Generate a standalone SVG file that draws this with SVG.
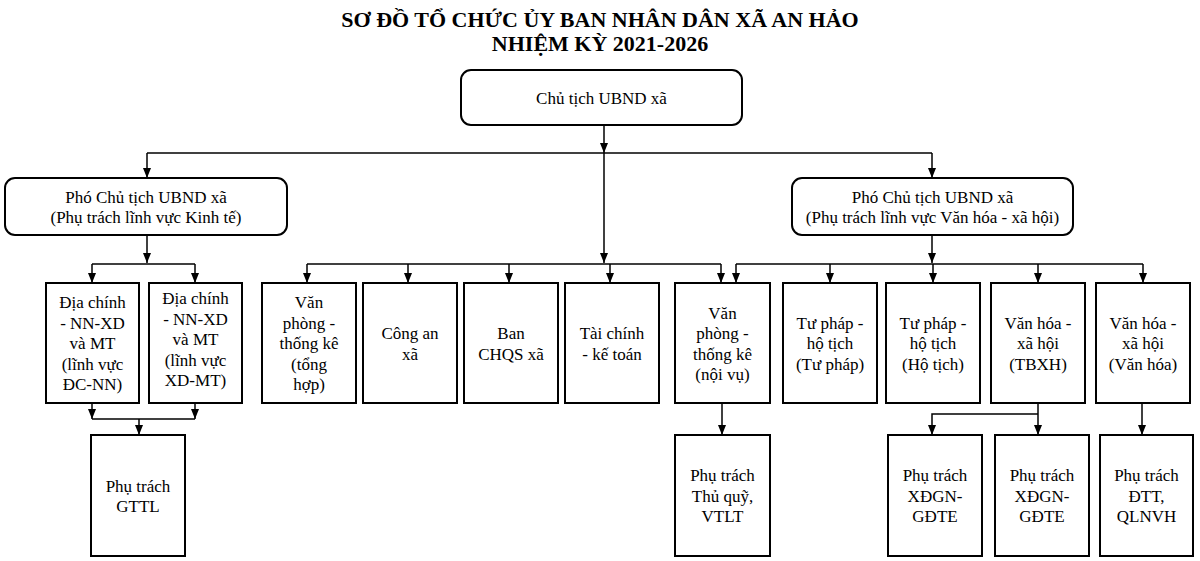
<svg xmlns="http://www.w3.org/2000/svg" width="1200" height="561" viewBox="0 0 1200 561">
<defs>
<marker id="arr" viewBox="0 0 10 8" markerWidth="10" markerHeight="8" refX="10" refY="4" orient="auto" markerUnits="userSpaceOnUse"><path d="M0,0 L10,4 L0,8 z" fill="#000"/></marker>
<style>
.box{fill:#fff;stroke:#000;stroke-width:2}
.t{font-family:"Liberation Serif","Times New Roman",serif;font-size:17px;text-anchor:middle;fill:#000}
.title{font-family:"Liberation Serif","Times New Roman",serif;font-size:22px;font-weight:bold;text-anchor:middle;fill:#000}
.c{fill:none;stroke:#000;stroke-width:1.5}
.a{fill:none;stroke:#000;stroke-width:1.5;marker-end:url(#arr)}
</style>
</defs>
<rect width="1200" height="561" fill="#fff"/>
<g id="title">
<text class="title" x="600" y="27">SƠ ĐỒ TỔ CHỨC ỦY BAN NHÂN DÂN XÃ AN HẢO</text>
<text class="title" x="600" y="51">NHIỆM KỲ 2021-2026</text>
</g>
<g id="connectors">
<path class="a" d="M604,126 V153"/>
<path class="c" d="M147,153 H932"/>
<path class="a" d="M147,153 V178"/>
<path class="a" d="M932,153 V178"/>
<path class="a" d="M604,153 V263"/>
<path class="a" d="M147,235 V263"/>
<path class="c" d="M92,264 H195"/>
<path class="a" d="M92,264 V283"/>
<path class="a" d="M195,264 V283"/>
<path class="c" d="M307,264 H721"/>
<path class="a" d="M307,264 V283"/>
<path class="a" d="M408,264 V283"/>
<path class="a" d="M509,264 V283"/>
<path class="a" d="M610,264 V283"/>
<path class="a" d="M721,264 V283"/>
<path class="a" d="M932,235 V263"/>
<path class="c" d="M736,264 H1143"/>
<path class="a" d="M736,264 V283"/>
<path class="a" d="M830,264 V283"/>
<path class="a" d="M933,264 V283"/>
<path class="a" d="M1038,264 V283"/>
<path class="a" d="M1143,264 V283"/>
<path class="a" d="M92,403 V419"/>
<path class="a" d="M195,403 V419"/>
<path class="c" d="M92,419 H195"/>
<path class="a" d="M139,419 V435"/>
<path class="a" d="M722,403 V435"/>
<path class="a" d="M1038,403 V435"/>
<path class="a" d="M1038,414 H932 V435"/>
<path class="a" d="M1142,403 V435"/>
</g>
<g id="chutich">
<rect class="box" x="461" y="70" width="281" height="55" rx="10"/>
<text class="t" x="601.5" y="104">Chủ tịch UBND xã</text>
</g>
<g id="pct-kinhte">
<rect class="box" x="5" y="178" width="282" height="57" rx="10"/>
<text class="t" x="146" y="202.5">Phó Chủ tịch UBND xã</text>
<text class="t" x="146" y="223">(Phụ trách lĩnh vực Kinh tế)</text>
</g>
<g id="pct-vhxh">
<rect class="box" x="792" y="178" width="281" height="57" rx="10"/>
<text class="t" x="932.5" y="202.5">Phó Chủ tịch UBND xã</text>
<text class="t" x="932.5" y="223">(Phụ trách lĩnh vực Văn hóa - xã hội)</text>
</g>
<g id="diachinh1">
<rect class="box" x="46" y="283" width="93" height="120"/>
<text class="t" x="92.5" y="308">Địa chính</text>
<text class="t" x="92.5" y="328.5">- NN-XD</text>
<text class="t" x="92.5" y="349">và MT</text>
<text class="t" x="92.5" y="369.5">(lĩnh vực</text>
<text class="t" x="92.5" y="390">ĐC-NN)</text>
</g>
<g id="diachinh2">
<rect class="box" x="149" y="283" width="93" height="120"/>
<text class="t" x="195.5" y="304">Địa chính</text>
<text class="t" x="195.5" y="324.5">- NN-XD</text>
<text class="t" x="195.5" y="345">và MT</text>
<text class="t" x="195.5" y="365.5">(lĩnh vực</text>
<text class="t" x="195.5" y="386">XD-MT)</text>
</g>
<g id="vanphong-th">
<rect class="box" x="262" y="283" width="94" height="120"/>
<text class="t" x="309" y="308">Văn</text>
<text class="t" x="309" y="328.5">phòng -</text>
<text class="t" x="309" y="349">thống kê</text>
<text class="t" x="309" y="369.5">(tổng</text>
<text class="t" x="309" y="390">hợp)</text>
</g>
<g id="congan">
<rect class="box" x="363" y="283" width="94" height="120"/>
<text class="t" x="410" y="339">Công an</text>
<text class="t" x="410" y="359.5">xã</text>
</g>
<g id="chqs">
<rect class="box" x="464" y="283" width="94" height="120"/>
<text class="t" x="511" y="339">Ban</text>
<text class="t" x="511" y="359.5">CHQS xã</text>
</g>
<g id="taichinh">
<rect class="box" x="565" y="283" width="94" height="120"/>
<text class="t" x="612" y="339">Tài chính</text>
<text class="t" x="612" y="359.5">- kế toán</text>
</g>
<g id="vanphong-nv">
<rect class="box" x="675" y="283" width="95" height="120"/>
<text class="t" x="722.5" y="318.5">Văn</text>
<text class="t" x="722.5" y="339">phòng -</text>
<text class="t" x="722.5" y="359.5">thống kê</text>
<text class="t" x="722.5" y="380">(nội vụ)</text>
</g>
<g id="tuphap1">
<rect class="box" x="783" y="283" width="94" height="120"/>
<text class="t" x="830" y="328.5">Tư pháp -</text>
<text class="t" x="830" y="349">hộ tịch</text>
<text class="t" x="830" y="369.5">(Tư pháp)</text>
</g>
<g id="tuphap2">
<rect class="box" x="886" y="283" width="94" height="120"/>
<text class="t" x="933" y="328.5">Tư pháp -</text>
<text class="t" x="933" y="349">hộ tịch</text>
<text class="t" x="933" y="369.5">(Hộ tịch)</text>
</g>
<g id="vanhoa1">
<rect class="box" x="991" y="283" width="94" height="120"/>
<text class="t" x="1038" y="328.5">Văn hóa -</text>
<text class="t" x="1038" y="349">xã hội</text>
<text class="t" x="1038" y="369.5">(TBXH)</text>
</g>
<g id="vanhoa2">
<rect class="box" x="1096" y="283" width="94" height="120"/>
<text class="t" x="1143" y="328.5">Văn hóa -</text>
<text class="t" x="1143" y="349">xã hội</text>
<text class="t" x="1143" y="369.5">(Văn hóa)</text>
</g>
<g id="gttl">
<rect class="box" x="91" y="435" width="94" height="121"/>
<text class="t" x="138" y="491.5">Phụ trách</text>
<text class="t" x="138" y="512">GTTL</text>
</g>
<g id="thuquy">
<rect class="box" x="675" y="435" width="95" height="121"/>
<text class="t" x="722.5" y="481">Phụ trách</text>
<text class="t" x="722.5" y="501.5">Thủ quỹ,</text>
<text class="t" x="722.5" y="522">VTLT</text>
</g>
<g id="xdgn1">
<rect class="box" x="888" y="435" width="94" height="121"/>
<text class="t" x="935" y="481">Phụ trách</text>
<text class="t" x="935" y="501.5">XĐGN-</text>
<text class="t" x="935" y="522">GĐTE</text>
</g>
<g id="xdgn2">
<rect class="box" x="995" y="435" width="94" height="121"/>
<text class="t" x="1042" y="481">Phụ trách</text>
<text class="t" x="1042" y="501.5">XĐGN-</text>
<text class="t" x="1042" y="522">GĐTE</text>
</g>
<g id="dtt">
<rect class="box" x="1100" y="435" width="93" height="121"/>
<text class="t" x="1146.5" y="481">Phụ trách</text>
<text class="t" x="1146.5" y="501.5">ĐTT,</text>
<text class="t" x="1146.5" y="522">QLNVH</text>
</g>
</svg>
